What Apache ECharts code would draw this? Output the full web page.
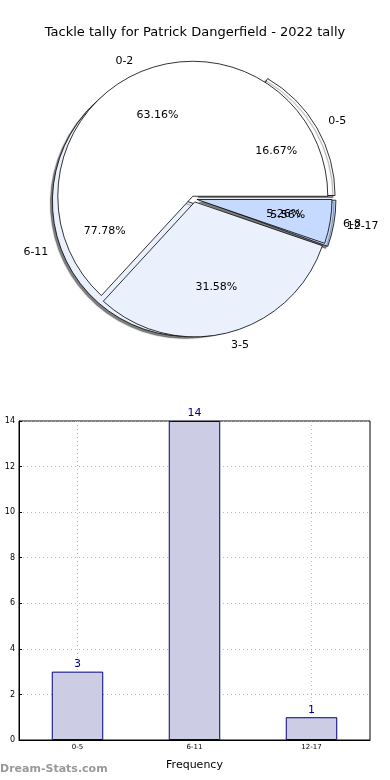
<!DOCTYPE html>
<html><head><meta charset="utf-8">
<script src="https://cdn.jsdelivr.net/npm/echarts@6/dist/echarts.min.js"></script>
<style>html,body{margin:0;padding:0;background:#fff}#c{width:390px;height:780px}</style>
</head><body><div id="c"></div>
<script>
var titleText = 'Tackle tally for Patrick Dangerfield - 2022 tally';
var barCategories = ['0-5', '6-11', '12-17'];
var barValues = [3, 14, 1];
var pieBCategories = ['0-2', '3-5', '6-8'];
var pieBValues = [12, 6, 1];
var yTicks = [0, 14, 2];
var sliceColors = ['#ffffff', '#eaf1fd', '#c6d9fe'];
var F = 'DejaVu Sans';

var chart = echarts.init(document.getElementById('c'));
var C = [194, 199], R = 135;

function sum(a) { return a.reduce(function (s, v) { return s + v; }, 0); }
function pieData(names, vals) {
  return names.map(function (n, i) {
    return { name: n, value: vals[i], selected: true, itemStyle: { color: sliceColors[i % 3] } };
  });
}
function shapePie(names, vals, off, z, shadow) {
  return {
    type: 'pie', center: C, radius: [0, R], startAngle: 0, clockwise: false,
    selectedMode: 'multiple', selectedOffset: off, avoidLabelOverlap: false, silent: true,
    animation: false, z: z, labelLayout: { hideOverlap: false },
    itemStyle: shadow ? { borderColor: '#000', borderWidth: 0.8, shadowColor: 'rgba(0,0,0,0.5)', shadowBlur: 1, shadowOffsetX: -2, shadowOffsetY: 2 } : { borderColor: '#000', borderWidth: 0.8 },
    label: { show: true, position: 'outside', formatter: '{b}', fontFamily: F, fontSize: 11, color: '#000', distanceToLabelLine: 0 },
    labelLine: { show: false, length: 13, length2: 0 },
    data: pieData(names, vals)
  };
}
function pctPie(names, vals, off, z) {
  var total = sum(vals);
  return {
    type: 'pie', center: C, radius: [0, R * 1.26], startAngle: 0, clockwise: false,
    selectedMode: 'multiple', selectedOffset: off, avoidLabelOverlap: false, silent: true,
    animation: false, z: z, labelLayout: { hideOverlap: false },
    itemStyle: { color: 'rgba(0,0,0,0)' },
    label: { show: true, position: 'inside', formatter: function (p) { return (p.value / total * 100).toFixed(2) + '%'; }, fontFamily: F, fontSize: 11, color: '#000' },
    labelLine: { show: false },
    data: names.map(function (n, i) { return { name: n, value: vals[i], selected: true }; })
  };
}

chart.setOption({
  animation: false,
  title: { text: titleText, left: 'center', top: 21, textStyle: { fontFamily: F, fontSize: 13, fontWeight: 'normal', color: '#000' } },
  grid: { left: 19, right: 20, top: 421, bottom: 40, containLabel: false, outerBoundsMode: 'none', show: true, borderColor: '#000', borderWidth: 1, backgroundColor: 'transparent' },
  xAxis: {
    type: 'category', data: barCategories, boundaryGap: true,
    name: 'Frequency', nameLocation: 'middle', nameGap: 20,
    nameTextStyle: { fontFamily: F, fontSize: 11, color: '#000' },
    axisLine: { lineStyle: { color: '#000' } },
    axisTick: { inside: true, alignWithLabel: true, length: 3, lineStyle: { color: '#000' } },
    axisLabel: { fontFamily: F, fontSize: 7, color: '#000', margin: 4 },
    splitLine: { show: true, alignWithLabel: true, lineStyle: { color: '#b8b8b8', type: [1, 3] } }
  },
  yAxis: {
    type: 'value', min: yTicks[0], max: yTicks[1], interval: yTicks[2],
    name: 'Data Intervals', nameLocation: 'middle', nameGap: 17, nameRotate: 90,
    nameTextStyle: { fontFamily: F, fontSize: 10, color: '#000' },
    axisLine: { show: true, lineStyle: { color: '#000' } },
    axisTick: { show: true, inside: true, length: 3, lineStyle: { color: '#000' } },
    axisLabel: { fontFamily: F, fontSize: 8, color: '#000', margin: 4 },
    splitLine: { show: true, lineStyle: { color: '#b8b8b8', type: [1, 3] } }
  },
  graphic: [{ type: 'text', left: 0, top: 764, style: { text: 'Dream-Stats.com', font: 'bold 11px "DejaVu Sans"', fill: '#999' } }],
  series: [
    shapePie(barCategories, barValues, 7, 1, true),
    shapePie(pieBCategories, pieBValues, 3, 2, false),
    pctPie(barCategories, barValues, 7, 3),
    pctPie(pieBCategories, pieBValues, 3, 4),
    {
      type: 'bar', data: barValues, barWidth: '44%',
      itemStyle: { color: '#ccccE5', borderColor: '#000080', borderWidth: 1 },
      label: { show: true, position: 'top', fontFamily: F, fontSize: 11, color: '#000080', distance: 2 }
    }
  ]
});
</script></body></html>
